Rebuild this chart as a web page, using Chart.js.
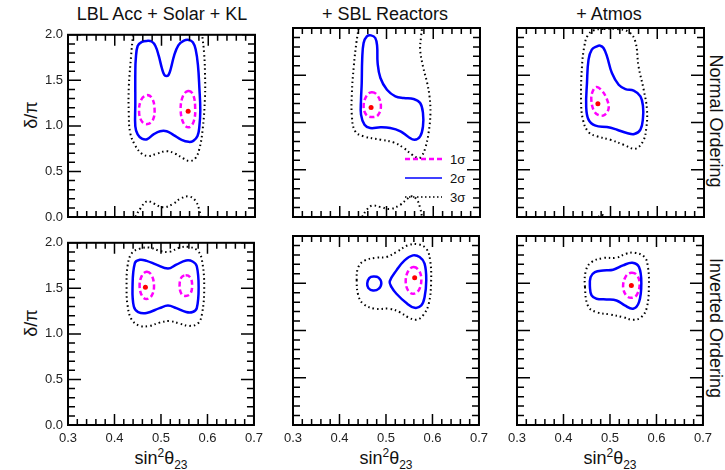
<!DOCTYPE html>
<html>
<head>
<meta charset="utf-8">
<script src="https://cdn.jsdelivr.net/npm/chart.js@4.4.1/dist/chart.umd.min.js"></script>
<style>
  body { margin: 0; background: #fff; width: 725px; height: 470px; overflow: hidden; position: relative;
         font-family: "Liberation Sans", Arial, sans-serif; color: #111; }
  canvas { position: absolute; }
  .t { position: absolute; white-space: nowrap; line-height: 1; font-size: 18px; }
  .t sup, .t sub { font-size: 12px; }
  .lg { position: absolute; white-space: nowrap; line-height: 1; font-size: 13px; transform: translateY(-50%); }
</style>
</head>
<body>

<div class="t" style="left:162px;top:5px;transform:translateX(-50%)">LBL Acc + Solar + KL</div>
<div class="t" style="left:385px;top:5px;transform:translateX(-50%)">+ SBL Reactors</div>
<div class="t" style="left:609px;top:5px;transform:translateX(-50%)">+ Atmos</div>

<div class="t" style="left:31px;top:115px;transform:translate(-50%,-50%) rotate(-90deg)">δ/π</div>
<div class="t" style="left:31px;top:323px;transform:translate(-50%,-50%) rotate(-90deg)">δ/π</div>

<div class="t" style="left:716px;top:121px;transform:translate(-50%,-50%) rotate(90deg)">Normal Ordering</div>
<div class="t" style="left:716px;top:328px;transform:translate(-50%,-50%) rotate(90deg)">Inverted Ordering</div>

<div class="t" style="left:161px;top:447px;transform:translateX(-50%)">sin<sup>2</sup>θ<sub>23</sub></div>
<div class="t" style="left:386px;top:447px;transform:translateX(-50%)">sin<sup>2</sup>θ<sub>23</sub></div>
<div class="t" style="left:610px;top:447px;transform:translateX(-50%)">sin<sup>2</sup>θ<sub>23</sub></div>

<div class="lg" style="left:450px;top:159px">1σ</div>
<div class="lg" style="left:450px;top:178px">2σ</div>
<div class="lg" style="left:450px;top:197px">3σ</div>

<script>
// axes
const xTicks = [0.3, 0.4, 0.5, 0.6, 0.7];
const xTickLabels = ['0.3', '0.4', '0.5', '0.6', '0.7'];
const yTicks = [0, 0.5, 1.0, 1.5, 2.0];
const yTickLabels = ['0.0', '0.5', '1.0', '1.5', '2.0'];

// Normal ordering, LBL Acc + Solar + KL
const noAcc1a = [[0.469,1.337],[0.479,1.31],[0.485,1.20],[0.482,1.07],[0.470,1.02],[0.458,1.05],[0.452,1.16],[0.457,1.29]];
const noAcc1b = [[0.557,1.383],[0.567,1.35],[0.572,1.20],[0.569,1.05],[0.559,0.985],[0.548,1.02],[0.541,1.17],[0.546,1.33]];
const noAcc2 = [[0.444,0.995],[0.444,1.242],[0.444,1.594],[0.445,1.735],[0.449,1.877],[0.458,1.922],[0.469,1.933],[0.479,1.926],
  [0.487,1.877],[0.494,1.771],[0.501,1.630],[0.506,1.559],[0.510,1.547],[0.515,1.559],[0.520,1.630],[0.527,1.771],[0.536,1.884],
  [0.547,1.933],[0.558,1.944],[0.567,1.919],[0.573,1.841],[0.578,1.665],[0.581,1.418],[0.583,1.171],[0.581,0.995],[0.577,0.889],
  [0.568,0.836],[0.558,0.825],[0.543,0.847],[0.526,0.899],[0.511,0.942],[0.497,0.942],[0.483,0.907],[0.469,0.854],[0.458,0.861],[0.449,0.907]];
const noAcc3top = [[0.439,2.0],[0.435,1.77],[0.430,1.418],[0.430,1.136],[0.433,0.924],[0.444,0.783],[0.458,0.695],[0.472,0.670],
  [0.490,0.695],[0.511,0.723],[0.529,0.695],[0.547,0.642],[0.560,0.614],[0.572,0.642],[0.581,0.748],[0.588,0.959],[0.593,1.312],
  [0.593,1.594],[0.591,1.806],[0.587,2.0]];
const noAcc3bot = [[0.444,0.0],[0.455,0.095],[0.469,0.173],[0.483,0.148],[0.504,0.106],[0.526,0.148],[0.540,0.200],[0.558,0.226],
  [0.572,0.183],[0.581,0.078],[0.584,0.0]];
const noAccBest = [[0.557,1.16]];

// Normal ordering, + SBL Reactors
const noSbl1 = [[0.468,1.32],[0.480,1.29],[0.488,1.18],[0.482,1.08],[0.470,1.058],[0.457,1.08],[0.451,1.17],[0.457,1.28]];
const noSbl2 = [[0.467,1.922],[0.458,1.912],[0.451,1.841],[0.448,1.665],[0.447,1.418],[0.4455,1.242],[0.4455,1.083],[0.453,0.977],
  [0.465,0.942],[0.487,0.949],[0.508,0.942],[0.530,0.907],[0.547,0.847],[0.560,0.818],[0.572,0.854],[0.578,0.959],[0.578,1.100],
  [0.572,1.206],[0.558,1.249],[0.537,1.259],[0.519,1.277],[0.501,1.347],[0.487,1.471],[0.481,1.630],[0.480,1.806],[0.476,1.894]];
const noSbl3top = [[0.4405,2.0],[0.4355,1.841],[0.430,1.594],[0.426,1.312],[0.426,1.065],[0.433,0.907],[0.451,0.854],[0.487,0.818],
  [0.515,0.790],[0.537,0.730],[0.5545,0.660],[0.569,0.624],[0.576,0.649],[0.583,0.730],[0.590,0.889],[0.594,1.100],[0.592,1.277],
  [0.587,1.418],[0.578,1.594],[0.572,1.771],[0.574,1.912],[0.576,2.0]];
const noSbl3bot = [[0.4476,0.0],[0.458,0.078],[0.469,0.12],[0.487,0.106],[0.508,0.085],[0.530,0.131],[0.544,0.190],[0.5545,0.219],
  [0.565,0.183],[0.572,0.095],[0.576,0.0]];
const noSblBest = [[0.467,1.160]];

// Normal ordering, + Atmos
const noAtm1 = [[0.470,1.376],[0.481,1.34],[0.492,1.25],[0.496,1.15],[0.487,1.08],[0.476,1.075],[0.465,1.12],[0.459,1.24],[0.462,1.33]];
const noAtm2 = [[0.471,1.806],[0.460,1.771],[0.453,1.665],[0.4497,1.418],[0.448,1.171],[0.453,1.030],[0.468,0.966],[0.4925,0.952],
  [0.514,0.924],[0.535,0.889],[0.551,0.878],[0.564,0.924],[0.5695,1.048],[0.5695,1.171],[0.564,1.277],[0.5496,1.337],[0.532,1.354],
  [0.5175,1.400],[0.503,1.524],[0.4925,1.700],[0.485,1.788],[0.478,1.813]];
const noAtm3 = [[0.4854,1.989],[0.5139,1.989],[0.539,1.958],[0.553,1.859],[0.560,1.594],[0.571,1.347],[0.578,1.136],[0.5766,0.942],
  [0.5695,0.801],[0.553,0.723],[0.528,0.765],[0.4996,0.818],[0.471,0.854],[0.453,0.899],[0.441,1.030],[0.437,1.242],[0.439,1.594],
  [0.444,1.806],[0.451,1.919],[0.464,1.975]];
const noAtm3bot = [[0.474,0.0],[0.481,0.025],[0.488,0.0]];
const noAtmBest = [[0.473,1.199]];

// Inverted ordering, LBL Acc + Solar + KL
const ioAcc1a = [[0.469,1.682],[0.479,1.65],[0.485,1.53],[0.480,1.42],[0.469,1.382],[0.459,1.42],[0.454,1.53],[0.459,1.64]];
const ioAcc1b = [[0.553,1.643],[0.563,1.62],[0.567,1.53],[0.563,1.44],[0.553,1.417],[0.544,1.44],[0.540,1.53],[0.544,1.62]];
const ioAcc2 = [[0.4388,1.512],[0.4416,1.300],[0.451,1.240],[0.469,1.230],[0.497,1.283],[0.515,1.311],[0.533,1.283],[0.554,1.240],
  [0.568,1.240],[0.577,1.283],[0.581,1.512],[0.577,1.742],[0.568,1.795],[0.554,1.806],[0.533,1.760],[0.515,1.717],[0.490,1.760],
  [0.469,1.802],[0.4545,1.813],[0.4438,1.777]];
const ioAcc3 = [[0.426,1.512],[0.428,1.318],[0.4367,1.159],[0.4545,1.088],[0.4758,1.088],[0.497,1.124],[0.5185,1.141],[0.540,1.113],
  [0.561,1.088],[0.579,1.113],[0.588,1.212],[0.593,1.512],[0.588,1.813],[0.579,1.912],[0.561,1.954],[0.540,1.947],[0.5185,1.901],
  [0.497,1.912],[0.4758,1.947],[0.4545,1.936],[0.4367,1.883],[0.428,1.742]];
const ioAccBest = [[0.4665,1.512]];

// Inverted ordering, + SBL Reactors
const ioSbl2a = [[0.473,1.572],[0.484,1.56],[0.490,1.50],[0.484,1.44],[0.472,1.424],[0.462,1.45],[0.4597,1.50],[0.464,1.555]];
const ioSbl2b = [[0.508,1.519],[0.5225,1.636],[0.540,1.742],[0.558,1.795],[0.5724,1.777],[0.583,1.707],[0.5866,1.530],[0.583,1.353],
  [0.576,1.265],[0.5617,1.240],[0.544,1.290],[0.5225,1.389],[0.512,1.459]];
const ioSbl1 = [[0.559,1.671],[0.570,1.64],[0.576,1.55],[0.571,1.43],[0.559,1.389],[0.548,1.42],[0.5424,1.52],[0.548,1.63]];
const ioSbl3 = [[0.437,1.530],[0.4405,1.671],[0.4547,1.742],[0.4797,1.770],[0.501,1.777],[0.5225,1.830],[0.547,1.901],[0.569,1.912],
  [0.5866,1.866],[0.595,1.742],[0.597,1.512],[0.592,1.283],[0.5795,1.159],[0.565,1.113],[0.547,1.141],[0.5296,1.194],[0.508,1.230],
  [0.476,1.230],[0.451,1.283],[0.4405,1.371]];
const ioSblBest = [[0.5617,1.558]];

// Inverted ordering, + Atmos
const ioAtm1 = [[0.546,1.611],[0.557,1.59],[0.5638,1.50],[0.558,1.38],[0.547,1.346],[0.535,1.37],[0.5282,1.47],[0.535,1.58]];
const ioAtm2 = [[0.4569,1.459],[0.4583,1.565],[0.4676,1.618],[0.4854,1.636],[0.5068,1.643],[0.528,1.689],[0.548,1.717],[0.5624,1.671],
  [0.5674,1.495],[0.5624,1.300],[0.5496,1.230],[0.5317,1.265],[0.514,1.318],[0.4925,1.329],[0.471,1.336],[0.4604,1.371]];
const ioAtm3 = [[0.4462,1.459],[0.4483,1.636],[0.4604,1.724],[0.4854,1.767],[0.514,1.770],[0.535,1.813],[0.553,1.823],[0.5745,1.777],
  [0.5816,1.671],[0.5838,1.495],[0.5795,1.247],[0.5674,1.141],[0.5496,1.113],[0.528,1.141],[0.4996,1.170],[0.471,1.194],[0.4533,1.254]];
const ioAtmBest = [[0.546,1.477]];

const sigma1 = { borderColor: '#ff00ff', borderWidth: 2.5, borderDash: [5, 3] };
const sigma2 = { borderColor: '#0000ff', borderWidth: 2.5 };
const sigma3 = { borderColor: '#000000', borderWidth: 2, borderDash: [1.5, 3] };

function contour(pts, style, closed) {
  return Object.assign({
    data: pts.map(([x, y]) => ({ x, y })),
    showLine: true, pointRadius: 0, tension: 0.4, fill: false, closed: closed
  }, style);
}
function best(pts) {
  return { data: pts.map(([x, y]) => ({ x, y })), showLine: false, pointRadius: 2.5,
           pointBackgroundColor: '#ff0000', pointBorderWidth: 0 };
}

// closed contours: let the line element wrap round like a radar line
const loopPlugin = {
  id: 'loop',
  beforeDatasetUpdate(chart, args) {
    const ds = chart.data.datasets[args.index];
    if (ds.closed && args.meta.dataset) {
      args.meta.dataset._loop = true;
      args.meta.dataset._fullLoop = true;
    }
  }
};

// frame with inward ticks on all four sides
const framePlugin = {
  id: 'frame',
  afterDatasetsDraw(chart) {
    const { ctx, chartArea: a, scales: { x, y } } = chart;
    ctx.save();
    ctx.strokeStyle = '#000';
    ctx.lineWidth = 1.5;
    ctx.beginPath();
    for (let i = 0; i <= 20; i++) {
      const v = 0.3 + i * 0.02;
      const px = x.getPixelForValue(v);
      const len = i % 5 === 0 ? 11 : 6;
      ctx.moveTo(px, a.bottom); ctx.lineTo(px, a.bottom - len);
      ctx.moveTo(px, a.top); ctx.lineTo(px, a.top + len);
    }
    for (let i = 0; i <= 20; i++) {
      const py = y.getPixelForValue(i * 0.1);
      const len = i % 5 === 0 ? 13 : 7;
      ctx.moveTo(a.left, py); ctx.lineTo(a.left + len, py);
      ctx.moveTo(a.right, py); ctx.lineTo(a.right - len, py);
    }
    ctx.stroke();
    ctx.lineWidth = 2;
    ctx.strokeRect(a.left, a.top, a.right - a.left, a.bottom - a.top);
    ctx.restore();
  }
};

// legend samples inside the SBL panel
const sigmaLegend = {
  id: 'sigmaLegend',
  afterDatasetsDraw(chart) {
    const { ctx, chartArea: a } = chart;
    const x0 = a.left + 112, x1 = a.left + 149;
    const rows = [
      { y: a.top + 131, color: '#ff00ff', width: 2.5, dash: [5, 3] },
      { y: a.top + 150, color: '#0000ff', width: 1.5, dash: [] },
      { y: a.top + 169, color: '#000000', width: 1.5, dash: [1.5, 2.5] }
    ];
    ctx.save();
    rows.forEach(r => {
      ctx.beginPath();
      ctx.strokeStyle = r.color;
      ctx.lineWidth = r.width;
      ctx.setLineDash(r.dash);
      ctx.moveTo(x0, r.y); ctx.lineTo(x1, r.y);
      ctx.stroke();
    });
    ctx.restore();
  }
};

Chart.register(loopPlugin, framePlugin);

const tickFont = { size: 13, family: '"Liberation Sans", Arial, sans-serif' };

function makePanel(left, top, showX, showY, datasets, extra) {
  const canvas = document.createElement('canvas');
  canvas.width = 251;
  canvas.height = 219;
  canvas.style.left = (left - 50) + 'px';
  canvas.style.top = (top - 6) + 'px';
  document.body.appendChild(canvas);
  new Chart(canvas.getContext('2d'), {
    type: 'scatter',
    data: { datasets: datasets },
    options: {
      responsive: false, animation: false, events: [],
      layout: { padding: { top: 6, right: 14, left: 0, bottom: 0 } },
      plugins: { legend: { display: false }, tooltip: { enabled: false } },
      scales: {
        x: {
          type: 'linear', min: 0.3, max: 0.7,
          grid: { display: false, drawTicks: false }, border: { display: false },
          afterBuildTicks: s => { s.ticks = xTicks.map(v => ({ value: v })); },
          afterFit: s => { s.height = 24; },
          ticks: { display: showX, autoSkip: false, maxRotation: 0, padding: 6, color: '#222', font: tickFont,
                   callback: (v, i) => xTickLabels[i] }
        },
        y: {
          type: 'linear', min: 0, max: 2,
          grid: { display: false, drawTicks: false }, border: { display: false },
          afterBuildTicks: s => { s.ticks = yTicks.map(v => ({ value: v })); },
          afterFit: s => { s.width = 50; },
          ticks: { display: showY, autoSkip: false, padding: 5, color: '#222', font: tickFont,
                   callback: (v, i) => yTickLabels[i] }
        }
      }
    },
    plugins: extra ? [extra] : []
  });
}

const cols = [68, 293, 517];
const rows = [28, 236];

makePanel(cols[0], rows[0], false, true, [
  contour(noAcc3top, sigma3, false), contour(noAcc3bot, sigma3, false), contour(noAcc2, sigma2, true),
  contour(noAcc1a, sigma1, true), contour(noAcc1b, sigma1, true), best(noAccBest)
]);
makePanel(cols[1], rows[0], false, false, [
  contour(noSbl3top, sigma3, false), contour(noSbl3bot, sigma3, false), contour(noSbl2, sigma2, true),
  contour(noSbl1, sigma1, true), best(noSblBest)
], sigmaLegend);
makePanel(cols[2], rows[0], false, false, [
  contour(noAtm3, sigma3, true), contour(noAtm3bot, sigma3, false), contour(noAtm2, sigma2, true),
  contour(noAtm1, sigma1, true), best(noAtmBest)
]);
makePanel(cols[0], rows[1], true, true, [
  contour(ioAcc3, sigma3, true), contour(ioAcc2, sigma2, true),
  contour(ioAcc1a, sigma1, true), contour(ioAcc1b, sigma1, true), best(ioAccBest)
]);
makePanel(cols[1], rows[1], true, false, [
  contour(ioSbl3, sigma3, true), contour(ioSbl2a, sigma2, true), contour(ioSbl2b, sigma2, true),
  contour(ioSbl1, sigma1, true), best(ioSblBest)
]);
makePanel(cols[2], rows[1], true, false, [
  contour(ioAtm3, sigma3, true), contour(ioAtm2, sigma2, true),
  contour(ioAtm1, sigma1, true), best(ioAtmBest)
]);
</script>
</body>
</html>
